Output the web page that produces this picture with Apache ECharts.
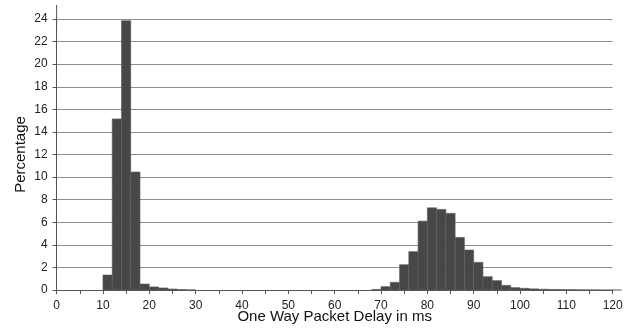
<!DOCTYPE html>
<html>
<head>
<meta charset="utf-8">
<script src="https://cdn.jsdelivr.net/npm/echarts@6/dist/echarts.min.js"></script>
<style>
html,body{margin:0;padding:0;background:#fff;}
#chart{width:638px;height:329px;}
</style>
</head>
<body>
<div id="chart"></div>
<script>
// Histogram bins (start of each 2 ms bin) and percentage of packets
const binWidth = 2;
const binStarts = [10, 12, 14, 16, 18, 20, 22, 24, 26, 28,
  68, 70, 72, 74, 76, 78, 80, 82, 84, 86, 88, 90, 92, 94, 96, 98,
  100, 102, 104, 106, 108, 110, 112, 114, 116];
const percentages = [1.33, 15.15, 23.85, 10.45, 0.53, 0.27, 0.18, 0.09, 0.04, 0.01,
  0.05, 0.3, 0.68, 2.24, 3.4, 6.1, 7.28, 7.14, 6.79, 4.66, 3.54, 2.45, 1.18, 0.83, 0.41, 0.21,
  0.15, 0.1, 0.07, 0.05, 0.04, 0.03, 0.02, 0.015, 0.01];
const xTitle = 'One Way Packet Delay in ms';
const yTitle = 'Percentage';

const data = binStarts.map((s, i) => [s, s + binWidth, percentages[i]]);

const chart = echarts.init(document.getElementById('chart'), null, {renderer: 'canvas'});
const font = 'Liberation Sans, Arial, Helvetica, sans-serif';
chart.setOption({
  animation: false,
  backgroundColor: '#fff',
  grid: {left: 56.6, right: 25.3, top: 19, bottom: 39, containLabel: false, outerBoundsMode: 'none'},
  xAxis: {
    type: 'value', min: 0, max: 120, interval: 10,
    name: xTitle, nameLocation: 'middle', nameGap: 19, nameMoveOverlap: false,
    nameTextStyle: {fontFamily: font, fontSize: 15, color: '#111'},
    axisLine: {show: true, lineStyle: {color: '#555', width: 1},
      symbol: ['none', 'rect'], symbolSize: [1, 18], symbolOffset: [0, 0]},
    axisTick: {show: true, length: 4, lineStyle: {color: '#555'}},
    minorTick: {show: true, splitNumber: 2, length: 4, lineStyle: {color: '#555'}},
    axisLabel: {fontFamily: font, fontSize: 12, color: '#222', margin: 10},
    splitLine: {show: false}
  },
  yAxis: {
    type: 'value', min: 0, max: 24, interval: 2,
    name: yTitle, nameLocation: 'middle', nameGap: 28, nameRotate: 90, nameMoveOverlap: false,
    nameTextStyle: {fontFamily: font, fontSize: 15, color: '#111'},
    axisLine: {show: true, lineStyle: {color: '#555', width: 1},
      symbol: ['none', 'rect'], symbolSize: [1, 28], symbolOffset: [0, 0]},
    axisTick: {show: true, length: 4, lineStyle: {color: '#555'}},
    axisLabel: {fontFamily: font, fontSize: 12, color: '#222', margin: 9},
    splitLine: {show: true, lineStyle: {color: '#8e8e8e', width: 1}}
  },
  series: [{
    type: 'custom',
    data: data,
    encode: {x: [0, 1], y: 2},
    renderItem: function (params, api) {
      const p0 = api.coord([api.value(0), api.value(2)]);
      const p1 = api.coord([api.value(1), 0]);
      return {
        type: 'rect',
        shape: {x: p0[0], y: p0[1], width: p1[0] - p0[0], height: p1[1] - p0[1]},
        style: {fill: '#474747', stroke: '#5e5e5e', lineWidth: 0.6}
      };
    }
  }]
});
</script>
</body>
</html>
